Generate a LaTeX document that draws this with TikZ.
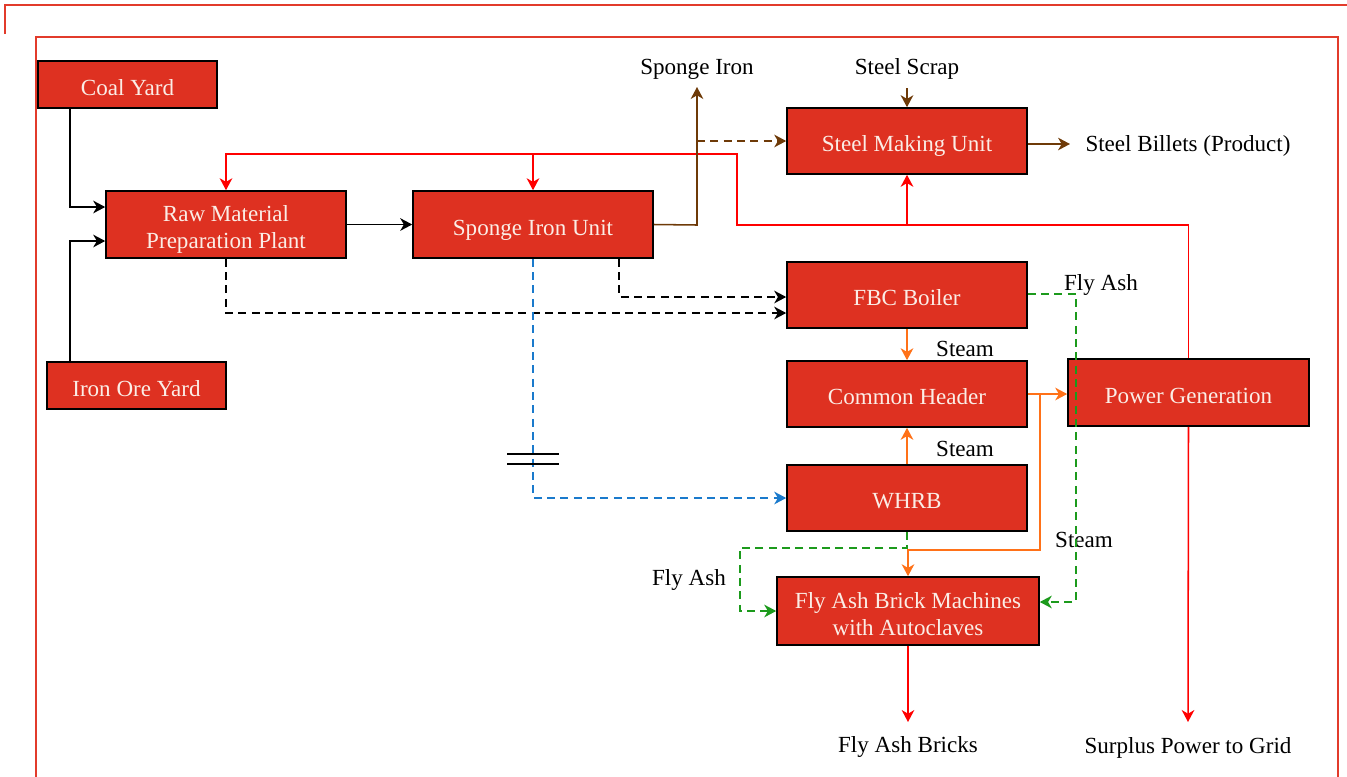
\documentclass[tikz,border=0pt]{standalone}
\usepackage{fontspec}
\setmainfont{Liberation Serif}
\usetikzlibrary{arrows.meta}
\definecolor{boxred}{HTML}{DE3121}
\definecolor{framered}{HTML}{E23B2B}
\definecolor{brownl}{HTML}{6E3A08}
\definecolor{orangel}{HTML}{FF7118}
\definecolor{greenl}{HTML}{1C9A1C}
\definecolor{bluel}{HTML}{1A7ACC}
\definecolor{boxtext}{HTML}{FBEDE6}
\begin{document}
\begin{tikzpicture}[x=0.75pt,y=-0.75pt,
  bx/.style 2 args={draw=black,line width=1.2pt,fill=boxred,text=boxtext,
    minimum width=#1*0.75pt,minimum height=#2*0.75pt,inner sep=0pt,
    text height=16pt,text depth=0pt,
    align=center,font=\fontsize{17.3}{20.5}\selectfont},
  two/.style={text height=36.5pt,text depth=0pt},
  lbl/.style={font=\fontsize{17.3}{20}\selectfont,inner sep=0pt,text height=16pt,text depth=0pt},
  tip/.style={-{Stealth[length=9pt,width=9.5pt,inset=2.8pt]}},
  ln/.style={line width=1.15pt},
  dsh/.style={dash pattern=on 6pt off 4pt},
]
\useasboundingbox (0,0) rectangle (1347,776);
% frames
\draw[framered,line width=1.6pt] (5,34) -- (5,5) -- (1347,5);
\draw[framered,line width=1.6pt] (36,780) -- (36,37) -- (1338,37) -- (1338,780);

% boxes
\node[bx={179}{47}] (coal) at (127.5,84.5) {Coal Yard};
\node[bx={240}{67},two] (rmpp) at (226,224.5) {Raw Material\\Preparation Plant};
\node[bx={179}{47}] (iron) at (136.5,385.5) {Iron Ore Yard};
\node[bx={240}{67}] (siu) at (533,224.5) {Sponge Iron Unit};
\node[bx={240}{66}] (smu) at (907,141) {Steel Making Unit};
\node[bx={240}{66}] (fbc) at (907,295) {FBC Boiler};
\node[bx={240}{66}] (ch) at (907,394) {Common Header};
\node[bx={240}{66}] (whrb) at (907,498) {WHRB};
\node[bx={241}{67}] (pg) at (1188.5,392.5) {Power Generation};
\node[bx={262}{68},two] (fab) at (908,611) {Fly Ash Brick Machines\\with Autoclaves};

% labels
\node[lbl] (lsi) at (697,64) {Sponge Iron};
\node[lbl] (lss) at (907,64) {Steel Scrap};
\node[lbl] (lsb) at (1188,141) {Steel Billets (Product)};
\node[lbl] (lfa1) at (1101,280) {Fly Ash};
\node[lbl] (lst1) at (965,346) {Steam};
\node[lbl] (lst2) at (965,446) {Steam};
\node[lbl] (lst3) at (1084,537) {Steam};
\node[lbl] (lfa2) at (689,575) {Fly Ash};
\node[lbl] (lfab) at (908,742) {Fly Ash Bricks};
\node[lbl] (lspg) at (1188,743) {Surplus Power to Grid};
\coordinate (siTip) at (697,87);
\coordinate (sbTip) at (1070,144);
\coordinate (ssTop) at (907,88);
\coordinate (fabTip) at (908,722);
\coordinate (pgTip) at (1188,722);

% black solid
\draw[ln,tip] (coal.south -| 70,0) -- (70,207) -- (rmpp.west |- 0,207);
\draw[ln,tip] (iron.north -| 70,0) -- (70,241) -- (rmpp.west |- 0,241);
\draw[ln,tip] (rmpp.east) -- (siu.west);

% black dashed
\draw[ln,dsh,tip] (rmpp.south) -- (226,313) -- (fbc.west |- 0,313);
\draw[ln,dsh,tip] (siu.south -| 619,0) -- (619,297) -- (fbc.west |- 0,297);

% blue dashed
\draw[ln,dsh,bluel,tip] (siu.south) -- (533,498) -- (whrb.west);
\draw[line width=1.1pt] (507,454) -- (559,454) (507,464) -- (559,464);

% red
\draw[ln,red,tip] (pg.north) -- (pg.north |- 0,225) -- (737,225) -- (737,154) -- (rmpp.north |- 0,154) -- (rmpp.north);
\draw[ln,red,tip] (siu.north |- 0,154) -- (siu.north);
\draw[ln,red,tip] (smu.south |- 0,225) -- (smu.south);
\draw[ln,red,tip] (pg.south) -- (pgTip);
\draw[ln,red,tip] (fab.south) -- (fabTip);

% brown
\draw[ln,brownl,tip] (siu.east) -- (697,225) -- (siTip);
\draw[ln,brownl,dsh,tip] (697,141) -- (smu.west);
\draw[ln,brownl,tip] (ssTop) -- (smu.north);
\draw[ln,brownl,tip] (smu.east |- sbTip) -- (sbTip);

% orange
\draw[ln,orangel,tip] (fbc.south) -- (ch.north);
\draw[ln,orangel,tip] (whrb.north) -- (ch.south);
\draw[ln,orangel,tip] (ch.east) -- (pg.west |- ch.east);
\draw[ln,orangel,tip] (1040,394) -- (1040,550) -- (908,550) -- (fab.north);

% green dashed
\draw[ln,greenl,dsh,tip] (fbc.east |- 0,294) -- (1076,294) -- (1076,602) -- (fab.east |- 0,602);
\draw[ln,greenl,dsh,tip] (whrb.south) -- (907,548) -- (740,548) -- (740,611) -- (fab.west);
\end{tikzpicture}
\end{document}
